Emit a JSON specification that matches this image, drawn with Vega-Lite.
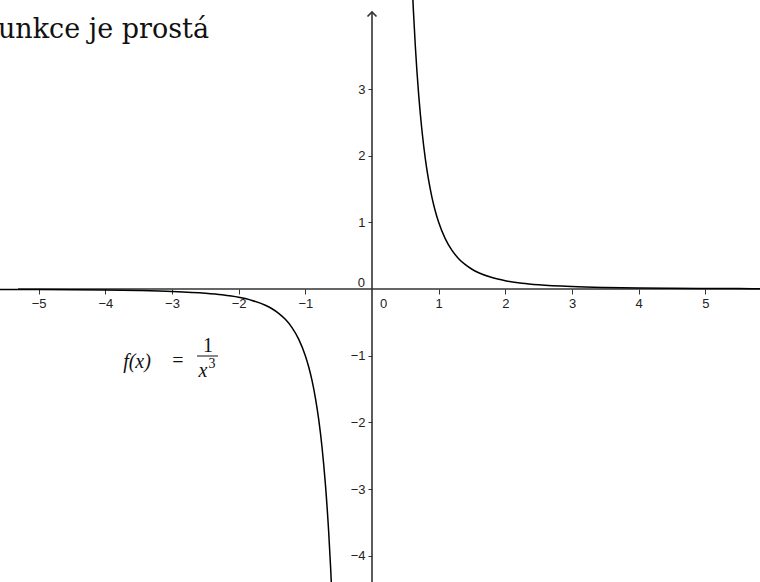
{
  "$schema": "https://vega.github.io/schema/vega-lite/v6.json",
  "width": 760,
  "height": 582,
  "padding": 0,
  "autosize": {"type": "none"},
  "background": "white",
  "config": {"view": {"stroke": null}},
  "datasets": {
    "curve": [
      {"branch": "neg", "x": -5.9, "y": -0.0049},
      {"branch": "neg", "x": -5.5, "y": -0.006},
      {"branch": "neg", "x": -5.0, "y": -0.008},
      {"branch": "neg", "x": -4.5, "y": -0.011},
      {"branch": "neg", "x": -4.0, "y": -0.0156},
      {"branch": "neg", "x": -3.5, "y": -0.0233},
      {"branch": "neg", "x": -3.0, "y": -0.037},
      {"branch": "neg", "x": -2.5, "y": -0.064},
      {"branch": "neg", "x": -2.25, "y": -0.0878},
      {"branch": "neg", "x": -2.0, "y": -0.125},
      {"branch": "neg", "x": -1.8, "y": -0.1715},
      {"branch": "neg", "x": -1.6, "y": -0.2441},
      {"branch": "neg", "x": -1.5, "y": -0.2963},
      {"branch": "neg", "x": -1.4, "y": -0.3644},
      {"branch": "neg", "x": -1.3, "y": -0.4552},
      {"branch": "neg", "x": -1.2, "y": -0.5787},
      {"branch": "neg", "x": -1.1, "y": -0.7513},
      {"branch": "neg", "x": -1.0, "y": -1.0},
      {"branch": "neg", "x": -0.95, "y": -1.1664},
      {"branch": "neg", "x": -0.9, "y": -1.3717},
      {"branch": "neg", "x": -0.85, "y": -1.6283},
      {"branch": "neg", "x": -0.8, "y": -1.9531},
      {"branch": "neg", "x": -0.75, "y": -2.3704},
      {"branch": "neg", "x": -0.7, "y": -2.9155},
      {"branch": "neg", "x": -0.65, "y": -3.6413},
      {"branch": "neg", "x": -0.62, "y": -4.1959},
      {"branch": "neg", "x": -0.6, "y": -4.6296},
      {"branch": "neg", "x": -0.58, "y": -5.125},
      {"branch": "pos", "x": 0.58, "y": 5.125},
      {"branch": "pos", "x": 0.6, "y": 4.6296},
      {"branch": "pos", "x": 0.62, "y": 4.1959},
      {"branch": "pos", "x": 0.65, "y": 3.6413},
      {"branch": "pos", "x": 0.7, "y": 2.9155},
      {"branch": "pos", "x": 0.75, "y": 2.3704},
      {"branch": "pos", "x": 0.8, "y": 1.9531},
      {"branch": "pos", "x": 0.85, "y": 1.6283},
      {"branch": "pos", "x": 0.9, "y": 1.3717},
      {"branch": "pos", "x": 0.95, "y": 1.1664},
      {"branch": "pos", "x": 1.0, "y": 1.0},
      {"branch": "pos", "x": 1.1, "y": 0.7513},
      {"branch": "pos", "x": 1.2, "y": 0.5787},
      {"branch": "pos", "x": 1.3, "y": 0.4552},
      {"branch": "pos", "x": 1.4, "y": 0.3644},
      {"branch": "pos", "x": 1.5, "y": 0.2963},
      {"branch": "pos", "x": 1.6, "y": 0.2441},
      {"branch": "pos", "x": 1.8, "y": 0.1715},
      {"branch": "pos", "x": 2.0, "y": 0.125},
      {"branch": "pos", "x": 2.25, "y": 0.0878},
      {"branch": "pos", "x": 2.5, "y": 0.064},
      {"branch": "pos", "x": 3.0, "y": 0.037},
      {"branch": "pos", "x": 3.5, "y": 0.0233},
      {"branch": "pos", "x": 4.0, "y": 0.0156},
      {"branch": "pos", "x": 4.5, "y": 0.011},
      {"branch": "pos", "x": 5.0, "y": 0.008},
      {"branch": "pos", "x": 5.5, "y": 0.006},
      {"branch": "pos", "x": 5.9, "y": 0.0049}
    ],
    "axisLines": [
      {"x": -5.31, "x2": 5.9, "y": 0, "y2": 0},
      {"x": 0, "x2": 0, "y": 4.155, "y2": -4.6}
    ],
    "arrowTip": [{"x": 0, "y": 4.155}],
    "origin": [{"x": 0, "y": 0, "label": "0"}],
    "heading": [{"x": -2.445, "y": 3.7725, "label": "Funkce je prostá"}],
    "formulaItalic": [
      {"x": -3.525, "y": -1.095, "label": "f(x)"},
      {"x": -2.535, "y": -1.23, "label": "x"}
    ],
    "formulaUpright": [
      {"x": -2.91, "y": -1.08, "label": "="},
      {"x": -2.46, "y": -0.855, "label": "1"}
    ],
    "formulaSup": [{"x": -2.4, "y": -1.13, "label": "3"}],
    "fractionBar": [{"x": -2.625, "x2": -2.31, "y": -1.005}]
  },
  "encoding": {
    "x": {
      "field": "x",
      "type": "quantitative",
      "scale": {"domain": [-5.58, 5.82], "nice": false, "zero": false},
      "axis": {
        "orient": "bottom",
        "offset": -293,
        "values": [-5, -4, -3, -2, -1, 1, 2, 3, 4, 5],
        "domain": false,
        "grid": false,
        "title": null,
        "tickSize": 5,
        "tickWidth": 1,
        "tickColor": "#333333",
        "labelFont": "Liberation Sans",
        "labelFontSize": 13,
        "labelColor": "#222222",
        "labelPadding": 3,
        "labelFlush": false,
        "labelOverlap": false
      }
    },
    "y": {
      "field": "y",
      "type": "quantitative",
      "scale": {"domain": [-4.395, 4.335], "nice": false, "zero": false},
      "axis": {
        "orient": "left",
        "offset": -372,
        "values": [-4, -3, -2, -1, 1, 2, 3],
        "domain": false,
        "grid": false,
        "title": null,
        "tickSize": 4,
        "tickWidth": 1,
        "tickColor": "#333333",
        "labelFont": "Liberation Sans",
        "labelFontSize": 13,
        "labelColor": "#222222",
        "labelPadding": 3,
        "labelFlush": false,
        "labelOverlap": false
      }
    }
  },
  "layer": [
    {
      "data": {"name": "axisLines"},
      "mark": {"type": "rule", "color": "#333333", "strokeWidth": 1.6, "clip": true},
      "encoding": {"x2": {"field": "x2"}, "y2": {"field": "y2"}}
    },
    {
      "data": {"name": "arrowTip"},
      "mark": {
        "type": "point",
        "shape": "M-1,1L0,0L1,1",
        "size": 81,
        "filled": false,
        "stroke": "#333333",
        "strokeWidth": 1.6,
        "opacity": 1
      },
      "encoding": {}
    },
    {
      "data": {"name": "curve"},
      "mark": {"type": "line", "color": "#000000", "strokeWidth": 1.5, "interpolate": "monotone", "clip": true},
      "encoding": {"detail": {"field": "branch"}}
    },
    {
      "data": {"name": "origin"},
      "mark": {"type": "text", "align": "left", "baseline": "top", "dx": 8, "dy": 9, "font": "Liberation Sans", "fontSize": 13, "color": "#222222"},
      "encoding": {"text": {"field": "label"}}
    },
    {
      "data": {"name": "origin"},
      "mark": {"type": "text", "align": "right", "baseline": "alphabetic", "dx": -7, "dy": -2, "font": "Liberation Sans", "fontSize": 13, "color": "#222222"},
      "encoding": {"text": {"field": "label"}}
    },
    {
      "data": {"name": "heading"},
      "mark": {"type": "text", "align": "right", "baseline": "alphabetic", "font": "DejaVu Serif", "fontSize": 27, "color": "#111111"},
      "encoding": {"text": {"field": "label"}}
    },
    {
      "data": {"name": "formulaItalic"},
      "mark": {"type": "text", "align": "center", "baseline": "middle", "font": "Liberation Serif", "fontStyle": "italic", "fontSize": 20, "color": "#111111"},
      "encoding": {"text": {"field": "label"}}
    },
    {
      "data": {"name": "formulaUpright"},
      "mark": {"type": "text", "align": "center", "baseline": "middle", "font": "Liberation Serif", "fontSize": 20, "color": "#111111"},
      "encoding": {"text": {"field": "label"}}
    },
    {
      "data": {"name": "formulaSup"},
      "mark": {"type": "text", "align": "center", "baseline": "middle", "font": "Liberation Serif", "fontSize": 14, "color": "#111111"},
      "encoding": {"text": {"field": "label"}}
    },
    {
      "data": {"name": "fractionBar"},
      "mark": {"type": "rule", "color": "#111111", "strokeWidth": 1},
      "encoding": {"x2": {"field": "x2"}}
    }
  ]
}
